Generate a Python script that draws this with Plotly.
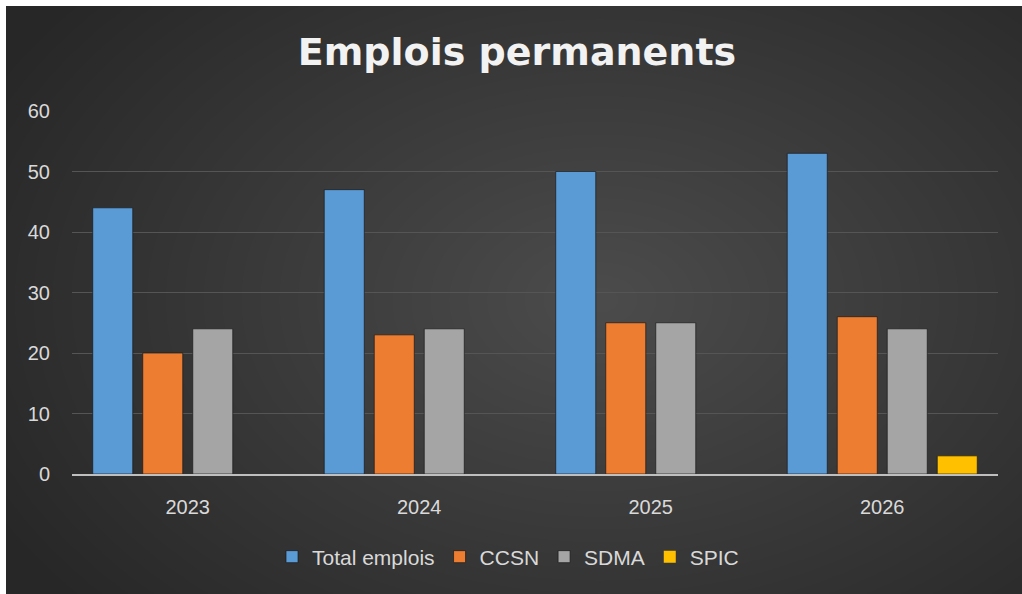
import plotly.graph_objects as go

years = ["2023", "2024", "2025", "2026"]
total_emplois = [44, 47, 50, 53]
ccsn = [20, 23, 25, 26]
sdma = [24, 24, 25, 24]
spic = [0, 0, 0, 3]

series = [
    ("Total emplois", total_emplois, "#5B9BD5"),
    ("CCSN", ccsn, "#ED7D31"),
    ("SDMA", sdma, "#A5A5A5"),
    ("SPIC", spic, "#FFC000"),
]

W, H = 1022, 594
L, R, T, B = 72, 24, 111, 120
pw, ph = W - L - R, H - T - B

def px_x(p):
    return (p - L) / pw

def px_y(p):
    return (H - B - p) / ph

fig = go.Figure()
for name, vals, col in series:
    fig.add_trace(go.Bar(
        name=name, x=years, y=vals,
        marker=dict(color=col,
                    line=dict(color="rgba(25,25,25,0.7)",
                              width=[1 if v else 0 for v in vals])),
    ))

shapes = []
# dark chart area
shapes.append(dict(type="rect", xref="paper", yref="paper",
                   x0=px_x(6), x1=px_x(W + 5), y0=px_y(H + 5), y1=px_y(6),
                   fillcolor="#272727", line=dict(width=0), layer="below"))
# radial glow approximation
cx, cy = 600, 300
n = 36
for i in range(n):
    f = 1 - i / n
    rx, ry = 680 * f, 460 * f
    shapes.append(dict(type="circle", xref="paper", yref="paper",
                       x0=px_x(cx - rx), x1=px_x(cx + rx),
                       y0=px_y(cy + ry), y1=px_y(cy - ry),
                       fillcolor="rgba(255,255,255,0.0065)", line=dict(width=0),
                       layer="below"))
# white top and left margins
shapes.append(dict(type="rect", xref="paper", yref="paper",
                   x0=px_x(-5), x1=px_x(W + 5), y0=px_y(6), y1=px_y(-5),
                   fillcolor="white", line=dict(width=0), layer="below"))
shapes.append(dict(type="rect", xref="paper", yref="paper",
                   x0=px_x(-5), x1=px_x(6), y0=px_y(H + 5), y1=px_y(-5),
                   fillcolor="white", line=dict(width=0), layer="below"))

fig.update_layout(
    width=W, height=H,
    margin=dict(l=L, r=R, t=T, b=B, pad=0),
    paper_bgcolor="white",
    plot_bgcolor="rgba(0,0,0,0)",
    barmode="group",
    bargap=0.136,
    bargroupgap=0.2,
    shapes=shapes,
    title=dict(text="<b>Emplois permanents</b>", x=px_x(517), xref="paper",
               xanchor="center", y=1 - 52 / H, yanchor="middle",
               font=dict(family="DejaVu Sans", size=38, color="#f2f2f2")),
    font=dict(family="Liberation Sans, Arial", color="#d9d9d9"),
    legend=dict(orientation="h", x=px_x(508), xanchor="center", y=px_y(557),
                yanchor="middle", font=dict(size=21, color="#d9d9d9"),
                bgcolor="rgba(0,0,0,0)", itemwidth=30, traceorder="normal"),
    xaxis=dict(showgrid=False, showline=True, linecolor="#bfbfbf", linewidth=2,
               ticks="outside", ticklen=14, tickcolor="rgba(0,0,0,0)",
               tickfont=dict(size=20, color="#d9d9d9"), zeroline=False),
    yaxis=dict(range=[0, 60], dtick=10, showgrid=True, gridcolor="#555555",
               gridwidth=1, zeroline=False, showline=False,
               ticks="outside", ticklen=17, tickcolor="rgba(0,0,0,0)",
               tickfont=dict(size=20, color="#d9d9d9")),
)

fig.write_html("out.html")
